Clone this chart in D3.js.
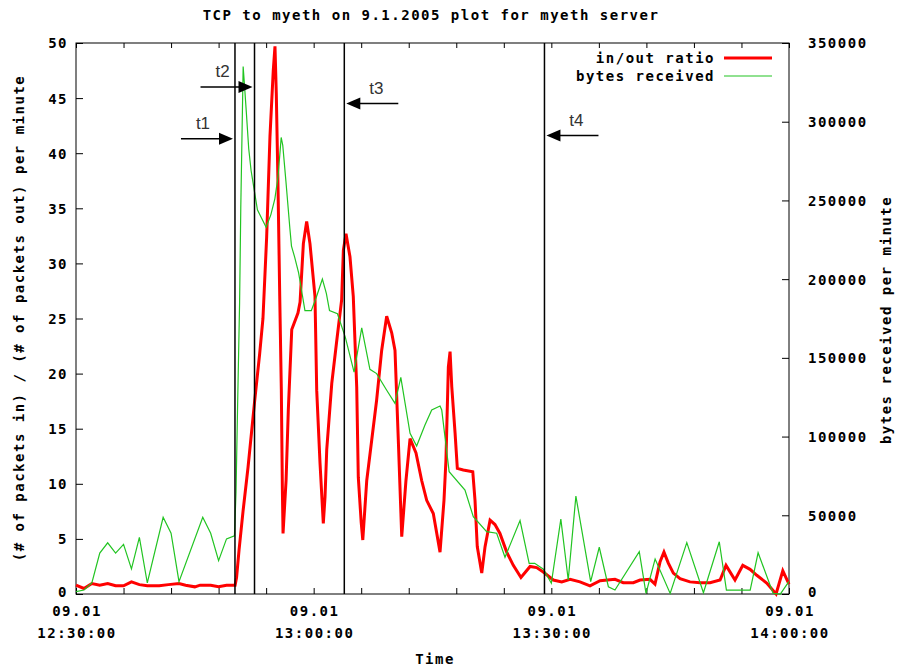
<!DOCTYPE html>
<html>
<head>
<meta charset="utf-8">
<script src="https://cdn.jsdelivr.net/npm/d3@7"></script>
<style>
  body { margin: 0; background: #fff; }
  text.gp { font-family: "DejaVu Sans Mono", monospace; font-weight: bold; font-size: 14px; letter-spacing: 1.5px; fill: #000; }
  text.note { font-family: "Liberation Sans", Arial, sans-serif; font-size: 17px; fill: #333; }
</style>
</head>
<body>
<svg id="chart" width="899" height="672"></svg>
<script>
// in/out packet ratio per minute (left axis)
const inOutRatio = [
  ["12:30:00", 0.8], ["12:31:00", 0.5], ["12:32:00", 0.95], ["12:33:00", 0.8], ["12:34:00", 0.95],
  ["12:35:00", 0.75], ["12:36:00", 0.75], ["12:37:00", 1.1], ["12:38:00", 0.85], ["12:39:00", 0.75],
  ["12:40:30", 0.75], ["12:41:40", 0.85], ["12:43:00", 0.95], ["12:43:50", 0.8], ["12:45:00", 0.65],
  ["12:45:40", 0.8], ["12:47:00", 0.8], ["12:48:00", 0.65], ["12:49:00", 0.8], ["12:50:05", 0.8],
  ["12:50:16", 1.5], ["12:50:35", 4], ["12:51:05", 7.5], ["12:51:43", 11.5], ["12:52:33", 17.5],
  ["12:53:11", 21.8], ["12:53:36", 25], ["12:54:04", 32.4], ["12:54:29", 41.5], ["12:54:54", 47.5],
  ["12:55:07", 49.7], ["12:55:17", 45.4], ["12:55:30", 37], ["12:55:43", 27], ["12:55:55", 18.6],
  ["12:56:03", 9.5], ["12:56:08", 5.5], ["12:56:31", 10.3], ["12:56:48", 16.7], ["12:57:14", 24],
  ["12:58:01", 25.5], ["12:58:17", 26.5], ["12:58:42", 31.8], ["12:59:07", 33.8], ["12:59:32", 31.8],
  ["13:00:10", 27], ["13:00:23", 18.5], ["13:00:48", 11.9], ["13:01:13", 6.4], ["13:01:26", 8.8],
  ["13:01:39", 13.1], ["13:02:17", 19.1], ["13:02:55", 23], ["13:03:32", 26.7], ["13:03:45", 31.2],
  ["13:04:05", 32.7], ["13:04:35", 30.6], ["13:05:00", 27], ["13:05:26", 18.8], ["13:05:38", 10.6],
  ["13:06:00", 6.5], ["13:06:12", 4.9], ["13:06:42", 10.3], ["13:07:20", 14], ["13:07:57", 17.6],
  ["13:08:35", 22.1], ["13:09:13", 25.2], ["13:09:51", 23.7], ["13:10:16", 22.1], ["13:10:41", 14],
  ["13:11:07", 5.2], ["13:11:39", 10.3], ["13:12:10", 14.1], ["13:12:55", 12.8], ["13:13:38", 10.3],
  ["13:14:16", 8.5], ["13:15:06", 7.3], ["13:15:57", 3.8], ["13:16:27", 8.5], ["13:16:42", 12.2],
  ["13:17:00", 20.6], ["13:17:13", 22], ["13:17:26", 18.8], ["13:17:51", 14.6], ["13:18:08", 11.4],
  ["13:18:53", 11.25], ["13:20:05", 11.1], ["13:20:22", 8.5], ["13:20:39", 4.3], ["13:21:13", 1.9],
  ["13:21:38", 4.3], ["13:22:16", 6.7], ["13:22:53", 6.3], ["13:23:31", 5.5], ["13:24:22", 3.8],
  ["13:25:12", 2.6], ["13:26:10", 1.5], ["13:27:19", 2.5], ["13:28:09", 2.4], ["13:28:59", 2.0],
  ["13:30:15", 1.27], ["13:31:19", 1.1], ["13:32:22", 1.33], ["13:33:37", 1.1], ["13:34:53", 0.73],
  ["13:36:09", 1.2], ["13:38:02", 1.33], ["13:39:05", 1.03], ["13:40:21", 1.03], ["13:41:12", 1.27],
  ["13:42:27", 1.33], ["13:43:05", 0.9], ["13:43:43", 2.9], ["13:44:13", 3.8], ["13:44:46", 2.8],
  ["13:45:24", 1.9], ["13:46:15", 1.4], ["13:47:30", 1.1], ["13:48:46", 1.03], ["13:50:02", 1.03],
  ["13:51:18", 1.27], ["13:52:03", 2.6], ["13:53:11", 1.27], ["13:54:10", 2.6], ["13:55:05", 2.24],
  ["13:55:56", 1.7], ["13:57:11", 1.0], ["13:58:22", 0], ["13:59:13", 2.1], ["14:00:00", 0.9]
];

// bytes received per minute (right axis)
const bytesReceived = [
  ["12:30:00", 1500], ["12:31:00", 2500], ["12:32:00", 7000], ["12:33:00", 26000], ["12:34:00", 32500],
  ["12:35:00", 26000], ["12:36:00", 31500], ["12:37:00", 16000], ["12:38:00", 36000], ["12:39:00", 7000],
  ["12:41:00", 48700], ["12:42:00", 38600], ["12:43:00", 7800], ["12:46:00", 48700], ["12:47:00", 38600],
  ["12:48:00", 21200], ["12:49:00", 35000], ["12:50:00", 37000], ["12:50:12", 65000], ["12:50:24", 120000],
  ["12:50:39", 185000], ["12:50:48", 245000], ["12:51:06", 335000], ["12:51:17", 322000], ["12:51:30", 306000],
  ["12:51:48", 283000], ["12:52:06", 269000], ["12:52:33", 255000], ["12:52:54", 244000], ["12:53:24", 239000],
  ["12:54:00", 233000], ["12:54:36", 241000], ["12:55:06", 251000], ["12:55:30", 265000], ["12:55:54", 290000],
  ["12:56:06", 285000], ["12:56:30", 262000], ["12:57:00", 232000], ["12:57:12", 221000], ["12:57:36", 214000],
  ["12:58:06", 204000], ["12:58:24", 195000], ["12:58:54", 180000], ["12:59:42", 180000], ["13:00:18", 188000],
  ["13:01:06", 200000], ["13:01:36", 191000], ["13:02:00", 180000], ["13:03:00", 178000], ["13:04:00", 163000],
  ["13:05:06", 141000], ["13:06:04", 169000], ["13:07:06", 142700], ["13:07:57", 140000], ["13:09:12", 129600],
  ["13:10:16", 121100], ["13:11:00", 137600], ["13:12:10", 102100], ["13:13:00", 94000], ["13:14:03", 107300],
  ["13:14:54", 116900], ["13:15:57", 119400], ["13:16:10", 116900], ["13:17:06", 77700], ["13:19:06", 66000],
  ["13:20:09", 49100], ["13:21:50", 39600], ["13:23:06", 38600], ["13:24:09", 23300], ["13:26:03", 46600],
  ["13:27:12", 19500], ["13:27:54", 19500], ["13:29:00", 15700], ["13:30:00", 6800], ["13:31:12", 47600],
  ["13:32:08", 8900], ["13:33:06", 62200], ["13:34:58", 7800], ["13:36:03", 29700], ["13:37:12", 4600],
  ["13:38:02", 2500], ["13:41:06", 26900], ["13:41:57", 400], ["13:43:06", 22200], ["13:45:00", 400],
  ["13:47:06", 32600], ["13:49:12", 800], ["13:51:12", 33200], ["13:52:06", 2500], ["13:55:06", 2500],
  ["13:56:06", 26200], ["13:58:00", 400], ["13:58:54", 0], ["14:00:00", 8000]
];

// event markers t1..t4
const markerNames = ["t1", "t2", "t3", "t4"];
const markerTimes = ["12:50:04", "12:52:32", "13:03:52", "13:29:08"];
const markerArrowLevel = [41.3, 46.0, 44.5, 41.6];   // left axis units
const markerArrowDir = [1, 1, -1, -1];              // 1 = arrow points right

// axis ticks
const xMajorTicks = ["12:30:00", "13:00:00", "13:30:00", "14:00:00"];
const xDateLabel = "09.01";
const leftTicks = [0, 5, 10, 15, 20, 25, 30, 35, 40, 45, 50];
const rightTicks = [0, 50000, 100000, 150000, 200000, 250000, 300000, 350000];

const seriesNames = ["in/out ratio", "bytes received"];
const seriesColors = ["#ff0000", "#22c422"];

const parse = d3.timeParse("%H:%M:%S");
const plotLeft = 76, plotRight = 789, plotTop = 43, plotBottom = 594;

const svg = d3.select("#chart");

const x = d3.scaleTime()
    .domain([parse("12:30:00"), parse("14:00:00")])
    .range([plotLeft, plotRight]);
const yL = d3.scaleLinear().domain([0, 50]).range([plotBottom, plotTop]);
const yR = d3.scaleLinear().domain([0, 350000]).range([plotBottom, plotTop]);

// minor x ticks every 6 minutes
const xMinorTicks = d3.timeMinute.every(6).range(parse("12:30:00"), parse("14:00:01"));

// Title
svg.append("text").attr("class", "gp")
    .attr("x", 431).attr("y", 20).attr("text-anchor", "middle")
    .text("TCP to myeth on 9.1.2005 plot for myeth server");

// Axes
const gLeft = svg.append("g").attr("transform", `translate(${plotLeft},0)`)
    .call(d3.axisLeft(yL).tickValues(leftTicks).tickSizeInner(-7).tickSizeOuter(0).tickPadding(10));
const gRight = svg.append("g").attr("transform", `translate(${plotRight},0)`)
    .call(d3.axisRight(yR).tickValues(rightTicks).tickSizeInner(-7).tickSizeOuter(0).tickPadding(19).tickFormat(d3.format("d")));
const gBottom = svg.append("g").attr("transform", `translate(0,${plotBottom})`)
    .call(d3.axisBottom(x).tickValues(xMinorTicks).tickSizeInner(-6).tickSizeOuter(0).tickFormat(""));
const gTop = svg.append("g").attr("transform", `translate(0,${plotTop})`)
    .call(d3.axisTop(x).tickValues(xMinorTicks).tickSizeInner(-5).tickSizeOuter(0).tickFormat(""));

[gLeft, gRight, gBottom, gTop].forEach(g => {
    g.select(".domain").remove();
    g.selectAll(".tick line").attr("stroke", "#000");
    g.selectAll(".tick text").attr("class", "gp").attr("font-family", null).attr("font-size", null)
        .attr("dy", "0.35em");
});
gLeft.selectAll(".tick text").attr("dx", "2px");
// bottom "0" labels sit a little high so they clear the date line
gLeft.selectAll(".tick text").filter(d => d === 0).attr("dy", "0.2em");
gRight.selectAll(".tick text").filter(d => d === 0).attr("dy", "0.2em");

// x tick labels, two lines
const xLab = svg.append("g");
xMajorTicks.forEach(t => {
    const px = x(parse(t));
    xLab.append("text").attr("class", "gp").attr("x", px + 1).attr("y", 616)
        .attr("text-anchor", "middle").text(xDateLabel);
    xLab.append("text").attr("class", "gp").attr("x", px + 1).attr("y", 638)
        .attr("text-anchor", "middle").text(t);
});

// Border
svg.append("rect")
    .attr("x", plotLeft).attr("y", plotTop)
    .attr("width", plotRight - plotLeft).attr("height", plotBottom - plotTop)
    .attr("fill", "none").attr("stroke", "#000").attr("stroke-width", 1);

// Axis titles
svg.append("text").attr("class", "gp")
    .attr("transform", `translate(24,318) rotate(-90)`)
    .attr("text-anchor", "middle")
    .text("(# of packets in) / (# of packets out) per minute");
svg.append("text").attr("class", "gp")
    .attr("transform", `translate(891,320) rotate(-90)`)
    .attr("text-anchor", "middle")
    .text("bytes received per minute");
svg.append("text").attr("class", "gp")
    .attr("x", 435).attr("y", 664).attr("text-anchor", "middle")
    .text("Time");

// Data lines
svg.append("clipPath").attr("id", "plotclip")
    .append("rect").attr("x", plotLeft).attr("y", plotTop - 2)
    .attr("width", plotRight - plotLeft).attr("height", plotBottom - plotTop + 3);

const lineL = d3.line().x(d => x(parse(d[0]))).y(d => yL(d[1]));
const lineR = d3.line().x(d => x(parse(d[0]))).y(d => yR(d[1]));

svg.append("path").datum(inOutRatio)
    .attr("d", lineL)
    .attr("fill", "none").attr("stroke", seriesColors[0]).attr("stroke-width", 3)
    .attr("stroke-linejoin", "miter").attr("stroke-miterlimit", 3);

svg.append("path").datum(bytesReceived)
    .attr("d", lineR)
    .attr("clip-path", "url(#plotclip)")
    .attr("fill", "none").attr("stroke", seriesColors[1]).attr("stroke-width", 1.2);

// Event marker lines with arrows
markerTimes.forEach((t, i) => {
    const px = x(parse(t));
    svg.append("line")
        .attr("x1", px).attr("x2", px).attr("y1", plotTop).attr("y2", plotBottom)
        .attr("stroke", "#000").attr("stroke-width", 1.5);

    const dir = markerArrowDir[i];
    const ay = yL(markerArrowLevel[i]);
    const tip = px - dir * 2;
    const tail = tip - dir * 52;
    svg.append("line")
        .attr("x1", tail).attr("x2", tip - dir * 12).attr("y1", ay).attr("y2", ay)
        .attr("stroke", "#000").attr("stroke-width", 1.5);
    svg.append("path")
        .attr("d", `M${tip},${ay} L${tip - dir * 14},${ay - 6} L${tip - dir * 14},${ay + 6} Z`)
        .attr("fill", "#000");
    svg.append("text").attr("class", "note")
        .attr("x", tip - dir * 30).attr("y", ay - 10)
        .attr("text-anchor", "middle")
        .text(markerNames[i]);
});

// Legend
const legend = svg.append("g");
seriesNames.forEach((name, i) => {
    const ly = 58 + i * 18;
    legend.append("text").attr("class", "gp")
        .attr("x", 715).attr("y", ly).attr("dy", "0.35em")
        .attr("text-anchor", "end").text(name);
    legend.append("line")
        .attr("x1", 724).attr("x2", 772).attr("y1", ly).attr("y2", ly)
        .attr("stroke", seriesColors[i]).attr("stroke-width", i === 0 ? 3 : 1.2);
});
</script>
</body>
</html>
